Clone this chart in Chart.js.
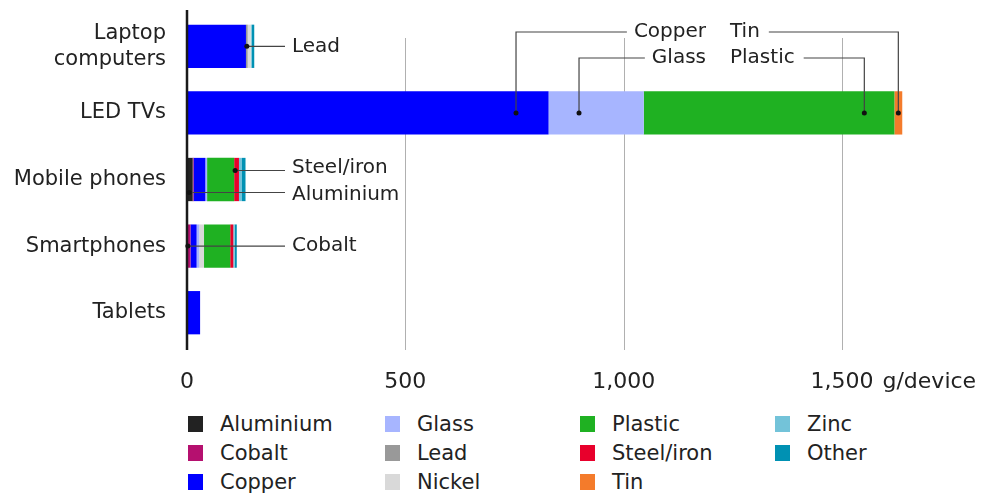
<!DOCTYPE html>
<html>
<head>
<meta charset="utf-8">
<script src="https://cdn.jsdelivr.net/npm/chart.js@4.4.1/dist/chart.umd.min.js"></script>
<style>
    body { margin: 0; background: #fff; font-family: "DejaVu Sans", sans-serif; }
    #wrap { position: relative; width: 986px; height: 495px; }
    #legend { position: absolute; left: 188px; top: 412px; }
    .item { position: absolute; display: flex; align-items: center; font-size: 21px; color: #222; white-space: nowrap; }
    .item span.box { width: 15px; height: 16px; margin-right: 17px; display: inline-block; }
</style>
</head>
<body>
<div id="wrap">
    <canvas id="chart" width="986" height="405"></canvas>
    <div id="legend"></div>
</div>
<script>
// categories (top to bottom)
const categories = [['Laptop', 'computers'], 'LED TVs', 'Mobile phones', 'Smartphones', 'Tablets'];

// grams per device, one array per material
const aluminium = [0, 0, 13, 0, 0];
const cobalt    = [0, 0, 2, 8, 0];
const copper    = [135, 828, 27, 14, 30];
const glass     = [0, 218, 4, 6, 0];
const lead      = [4, 0, 0, 0, 0];
const nickel    = [7, 0, 0, 11, 0];
const plastic   = [0, 574, 62, 60, 0];
const steelIron = [0, 0, 11, 7, 0];
const tin       = [0, 18, 0, 0, 0];
const zinc      = [2, 0, 7, 3, 0];
const other     = [6, 0, 8, 5, 0];

const xTicks = [0, 500, 1000, 1500];
const unitLabel = 'g/device';

const series = [
    { label: 'Aluminium',  data: aluminium, color: '#222222' },
    { label: 'Cobalt',     data: cobalt,    color: '#b5106f' },
    { label: 'Copper',     data: copper,    color: '#0000ff' },
    { label: 'Glass',      data: glass,     color: '#a7b5ff' },
    { label: 'Lead',       data: lead,      color: '#999999' },
    { label: 'Nickel',     data: nickel,    color: '#d9d9d9' },
    { label: 'Plastic',    data: plastic,   color: '#1fb122' },
    { label: 'Steel/iron', data: steelIron, color: '#e8002c' },
    { label: 'Tin',        data: tin,       color: '#f47b2b' },
    { label: 'Zinc',       data: zinc,      color: '#73c3d9' },
    { label: 'Other',      data: other,     color: '#0091b3' }
];

// callouts: which segment, where along it (0..1), vertical offset inside the bar, label placement
const callouts = [
    { text: 'Lead',       cat: 0, mat: 'Lead',       frac: 0.5,  dy: 0,   type: 'side' },
    { text: 'Steel/iron', cat: 2, mat: 'Steel/iron', frac: 0.2,  dy: -9,  type: 'side' },
    { text: 'Aluminium',  cat: 2, mat: 'Aluminium',  frac: 0.4,  dy: 13,  type: 'side' },
    { text: 'Cobalt',     cat: 3, mat: 'Cobalt',     frac: 0.25, dy: 0,   type: 'side' },
    { text: 'Copper',     cat: 1, mat: 'Copper',     frac: 0.91, dy: 0,   type: 'topL', y: 32 },
    { text: 'Glass',      cat: 1, mat: 'Glass',      frac: 0.32, dy: 0,   type: 'topL', y: 58 },
    { text: 'Tin',        cat: 1, mat: 'Tin',        frac: 0.5,  dy: 0,   type: 'topR', y: 32 },
    { text: 'Plastic',    cat: 1, mat: 'Plastic',    frac: 0.88, dy: 0,   type: 'topR', y: 58 }
];

const FONT = '"DejaVu Sans", sans-serif';

// grid lines, axis line, unit label and callouts
const decorPlugin = {
    id: 'decor',
    beforeDatasetsDraw(chart) {
        const ctx = chart.ctx;
        const x = chart.scales.x;
        ctx.save();
        ctx.strokeStyle = '#b0b0b0';
        ctx.lineWidth = 1;
        xTicks.slice(1).forEach(v => {
            const px = Math.round(x.getPixelForValue(v)) + 0.5;
            ctx.beginPath();
            ctx.moveTo(px, 38);
            ctx.lineTo(px, 350);
            ctx.stroke();
        });
        ctx.restore();
    },
    afterDatasetsDraw(chart) {
        const ctx = chart.ctx;
        const x = chart.scales.x;
        const y = chart.scales.y;
        ctx.save();

        // y axis line
        const x0 = x.getPixelForValue(0);
        ctx.strokeStyle = '#1a1a1a';
        ctx.lineWidth = 2.5;
        ctx.beginPath();
        ctx.moveTo(x0, 10);
        ctx.lineTo(x0, 350);
        ctx.stroke();

        // unit label next to the last tick
        ctx.font = '22px ' + FONT;
        ctx.fillStyle = '#222';
        ctx.textBaseline = 'middle';
        const lastTick = xTicks[xTicks.length - 1];
        const lastW = ctx.measureText(lastTick.toLocaleString('en-US')).width;
        ctx.textAlign = 'left';
        ctx.fillText(unitLabel, x.getPixelForValue(lastTick) + lastW / 2 + 9, 382);

        // callouts
        ctx.font = '20px ' + FONT;
        ctx.strokeStyle = '#444';
        ctx.lineWidth = 1.2;
        callouts.forEach(c => {
            const idx = series.findIndex(s => s.label === c.mat);
            let start = 0;
            for (let i = 0; i < idx; i++) start += series[i].data[c.cat];
            const val = start + series[idx].data[c.cat] * c.frac;
            const dx = x.getPixelForValue(val);
            const dy = y.getPixelForValue(c.cat) + c.dy;

            ctx.beginPath();
            if (c.type === 'side') {
                ctx.moveTo(dx, dy);
                ctx.lineTo(285, dy);
                ctx.stroke();
                ctx.textAlign = 'left';
                ctx.fillText(c.text, 292, dy - (c.dy < 0 ? 3 : c.dy > 0 ? -2 : 0));
            } else if (c.type === 'topL') {
                const tx = 706;
                const w = ctx.measureText(c.text).width;
                ctx.moveTo(dx, dy);
                ctx.lineTo(dx, c.y);
                ctx.lineTo(tx - w - 7, c.y);
                ctx.stroke();
                ctx.textAlign = 'right';
                ctx.fillText(c.text, tx, c.y);
            } else {
                const tx = 730;
                const w = ctx.measureText(c.text).width;
                ctx.moveTo(tx + w + 9, c.y);
                ctx.lineTo(dx, c.y);
                ctx.lineTo(dx, dy);
                ctx.stroke();
                ctx.textAlign = 'left';
                ctx.fillText(c.text, tx, c.y);
            }
            ctx.fillStyle = '#111';
            ctx.beginPath();
            ctx.arc(dx, dy, 2.5, 0, Math.PI * 2);
            ctx.fill();
            ctx.fillStyle = '#222';
        });
        ctx.restore();
    }
};

new Chart(document.getElementById('chart').getContext('2d'), {
    type: 'bar',
    data: {
        labels: categories,
        datasets: series.map(s => ({
            label: s.label,
            data: s.data,
            backgroundColor: s.color,
            borderWidth: 0,
            barPercentage: 0.65,
            categoryPercentage: 1
        }))
    },
    options: {
        indexAxis: 'y',
        responsive: false,
        animation: false,
        layout: { padding: { left: 0, right: 13, top: 13, bottom: 0 } },
        plugins: {
            legend: { display: false },
            tooltip: { enabled: false }
        },
        scales: {
            x: {
                stacked: true,
                min: 0,
                max: 1800,
                afterBuildTicks: axis => {
                    axis.ticks = xTicks.map(v => ({ value: v }));
                },
                afterFit: scale => {
                    scale.height = 59;
                    scale.paddingLeft = 0;
                    scale.paddingRight = 0;
                },
                grid: { display: false, drawTicks: false },
                border: { display: false },
                ticks: {
                    padding: 23,
                    color: '#222',
                    font: { family: FONT, size: 22 },
                    callback: v => v.toLocaleString('en-US')
                }
            },
            y: {
                stacked: true,
                afterFit: scale => {
                    scale.width = 187;
                    scale.paddingTop = 0;
                    scale.paddingBottom = 0;
                },
                grid: { display: false, drawTicks: false },
                border: { display: false },
                ticks: {
                    padding: 21,
                    color: '#222',
                    font: { family: FONT, size: 21, lineHeight: 1.25 }
                }
            }
        }
    },
    plugins: [decorPlugin]
});

// legend: 4 columns, filled top to bottom
const legend = document.getElementById('legend');
const colX = [0, 197, 392, 587];
series.forEach((s, i) => {
    const col = Math.floor(i / 3), row = i % 3;
    const item = document.createElement('div');
    item.className = 'item';
    item.style.left = colX[col] + 'px';
    item.style.top = (row * 29) + 'px';
    const box = document.createElement('span');
    box.className = 'box';
    box.style.background = s.color;
    const txt = document.createElement('span');
    txt.textContent = s.label;
    item.appendChild(box);
    item.appendChild(txt);
    legend.appendChild(item);
});
</script>
</body>
</html>
